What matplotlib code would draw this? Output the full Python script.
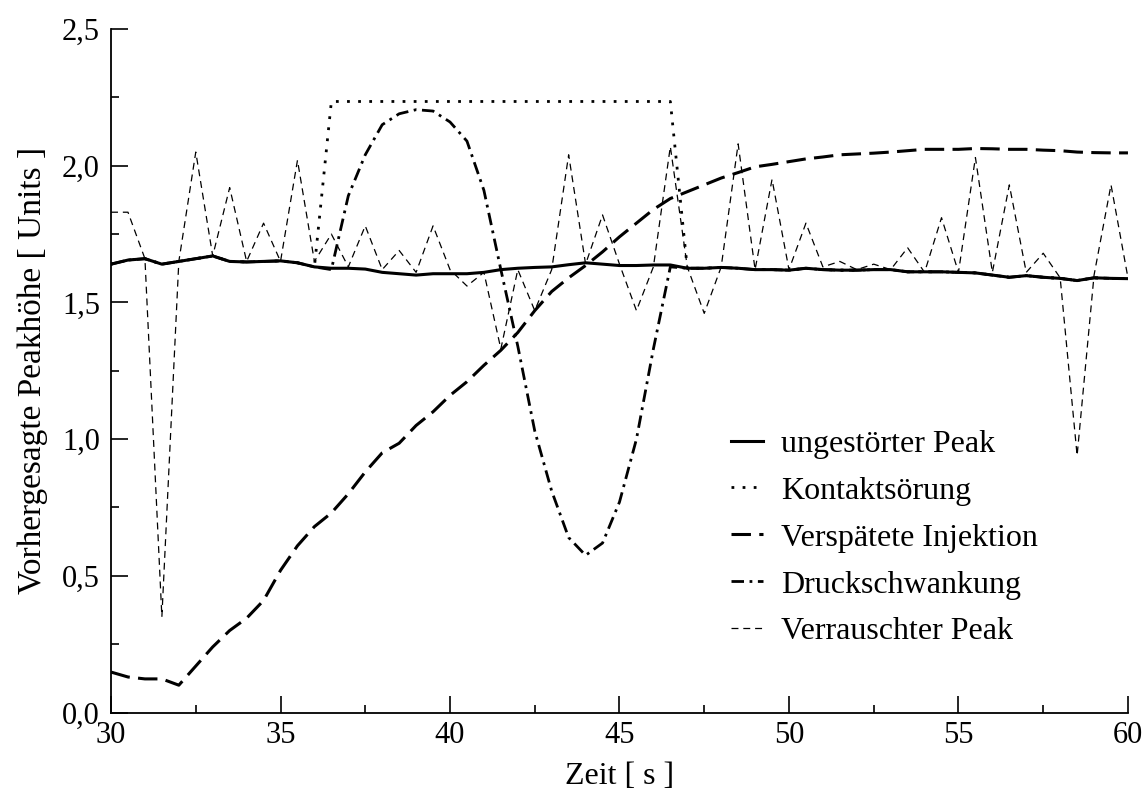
import matplotlib
matplotlib.use("Agg")
import matplotlib.pyplot as plt
import numpy as np

plt.rcParams['font.family'] = ['Liberation Serif', 'DejaVu Serif']
plt.rcParams['lines.scale_dashes'] = False

## Zeitachse, Abtastung alle 0,5 s
zeit = np.arange(30.0, 60.01, 0.5)

ungestoert = [1.64, 1.655, 1.66, 1.64, 1.65, 1.66, 1.67, 1.65, 1.648, 1.65,
              1.652, 1.645, 1.63, 1.625, 1.625, 1.622, 1.61, 1.605, 1.60, 1.605,
              1.605, 1.605, 1.61, 1.62, 1.625, 1.628, 1.63, 1.638, 1.645, 1.64,
              1.635, 1.635, 1.637, 1.637, 1.625, 1.625, 1.628, 1.625, 1.62, 1.62,
              1.618, 1.625, 1.62, 1.618, 1.618, 1.62, 1.62, 1.612, 1.612, 1.612,
              1.61, 1.608, 1.60, 1.592, 1.598, 1.592, 1.588, 1.58, 1.59, 1.588,
              1.587]

kontakt = [1.64, 1.655, 1.66, 1.64, 1.65, 1.66, 1.67, 1.65, 1.648, 1.65,
           1.652, 1.645, 1.63, 2.235, 2.235, 2.235, 2.235, 2.235, 2.235, 2.235,
           2.235, 2.235, 2.235, 2.235, 2.235, 2.235, 2.235, 2.235, 2.235, 2.235,
           2.235, 2.235, 2.235, 2.235, 1.625, 1.625, 1.628, 1.625, 1.62, 1.62,
           1.618, 1.625, 1.62, 1.618, 1.618, 1.62, 1.62, 1.612, 1.612, 1.612,
           1.61, 1.608, 1.60, 1.592, 1.598, 1.592, 1.588, 1.58, 1.59, 1.588,
           1.587]

injektion = [0.148, 0.13, 0.123, 0.123, 0.10, 0.17, 0.24, 0.30, 0.345, 0.41,
             0.52, 0.61, 0.68, 0.73, 0.80, 0.88, 0.95, 0.985, 1.05, 1.10,
             1.16, 1.21, 1.27, 1.325, 1.39, 1.47, 1.54, 1.59, 1.635, 1.685,
             1.74, 1.79, 1.84, 1.88, 1.905, 1.93, 1.955, 1.975, 1.996, 2.005,
             2.015, 2.025, 2.032, 2.04, 2.043, 2.046, 2.05, 2.055, 2.06, 2.06,
             2.06, 2.063, 2.062, 2.06, 2.06, 2.057, 2.055, 2.05, 2.048, 2.047,
             2.047]

druck = [1.64, 1.655, 1.66, 1.64, 1.65, 1.66, 1.67, 1.65, 1.648, 1.65,
         1.652, 1.645, 1.63, 1.62, 1.89, 2.04, 2.15, 2.19, 2.205, 2.20,
         2.16, 2.09, 1.91, 1.62, 1.34, 1.03, 0.81, 0.64, 0.575, 0.62,
         0.77, 1.00, 1.33, 1.63, 1.625, 1.625, 1.628, 1.625, 1.62, 1.62,
         1.618, 1.625, 1.62, 1.618, 1.618, 1.62, 1.62, 1.612, 1.612, 1.612,
         1.61, 1.608, 1.60, 1.592, 1.598, 1.592, 1.588, 1.58, 1.59, 1.588,
         1.587]

rauschen = [1.83, 1.83, 1.66, 0.35, 1.65, 2.05, 1.67, 1.92, 1.65, 1.79,
            1.65, 2.02, 1.65, 1.75, 1.63, 1.78, 1.62, 1.69, 1.61, 1.78,
            1.62, 1.56, 1.61, 1.33, 1.62, 1.47, 1.62, 2.04, 1.64, 1.82,
            1.64, 1.47, 1.63, 2.07, 1.63, 1.46, 1.63, 2.08, 1.62, 1.95,
            1.62, 1.79, 1.63, 1.65, 1.62, 1.64, 1.62, 1.70, 1.61, 1.81,
            1.61, 2.03, 1.61, 1.93, 1.61, 1.68, 1.59, 0.94, 1.60, 1.93,
            1.59]

fig = plt.figure(figsize=(11.47, 7.91), dpi=100)
ax = fig.add_axes([0.0968, 0.0992, 0.8866, 0.8641])

ax.plot(zeit, kontakt, color="black", lw=2.0, dashes=(2, 6), label="Kontaktsörung")
ax.plot(zeit, injektion, color="black", lw=2.2, dashes=(14, 6), label="Verspätete Injektion")
ax.plot(zeit, druck, color="black", lw=2.0, dashes=(9, 4, 2, 4), label="Druckschwankung")
ax.plot(zeit, rauschen, color="black", lw=0.9, dashes=(5, 3.5), label="Verrauschter Peak")
ax.plot(zeit, ungestoert, color="black", lw=2.2, label="ungestörter Peak")

ax.set_xlim(30, 60)
ax.set_ylim(0, 2.5)
ax.spines['top'].set_visible(False)
ax.spines['right'].set_visible(False)
ax.spines['left'].set_linewidth(1.3)
ax.spines['bottom'].set_linewidth(1.3)

ax.set_xticks(np.arange(30, 61, 5))
ax.set_xticks(np.arange(32.5, 60, 5), minor=True)
ax.set_yticks(np.arange(0, 2.51, 0.5))
ax.set_yticks(np.arange(0.25, 2.5, 0.5), minor=True)
ax.set_yticklabels([f"{v:.1f}".replace(".", ",") for v in np.arange(0, 2.51, 0.5)])
ax.tick_params(which="major", direction="in", length=12, width=1.2, labelsize=22, pad=6)
ax.tick_params(which="minor", direction="in", length=6, width=1.2)
ax.tick_params(axis="y", which="major", pad=8)

ax.set_xlabel("Zeit [ s ]", fontsize=23, labelpad=9)
ax.set_ylabel("Vorhergesagte Peakhöhe [ Units ]", fontsize=24, labelpad=10)

handles, labels = ax.get_legend_handles_labels()
reihenfolge = [4, 0, 1, 2, 3]
ax.legend([handles[i] for i in reihenfolge], [labels[i] for i in reihenfolge],
          loc="upper left", bbox_to_anchor=(0.597, 0.433), frameon=False, fontsize=23,
          handlelength=1.0, handletextpad=0.56, labelspacing=0.55, borderaxespad=0)

fig.savefig("out.png", dpi=100)
